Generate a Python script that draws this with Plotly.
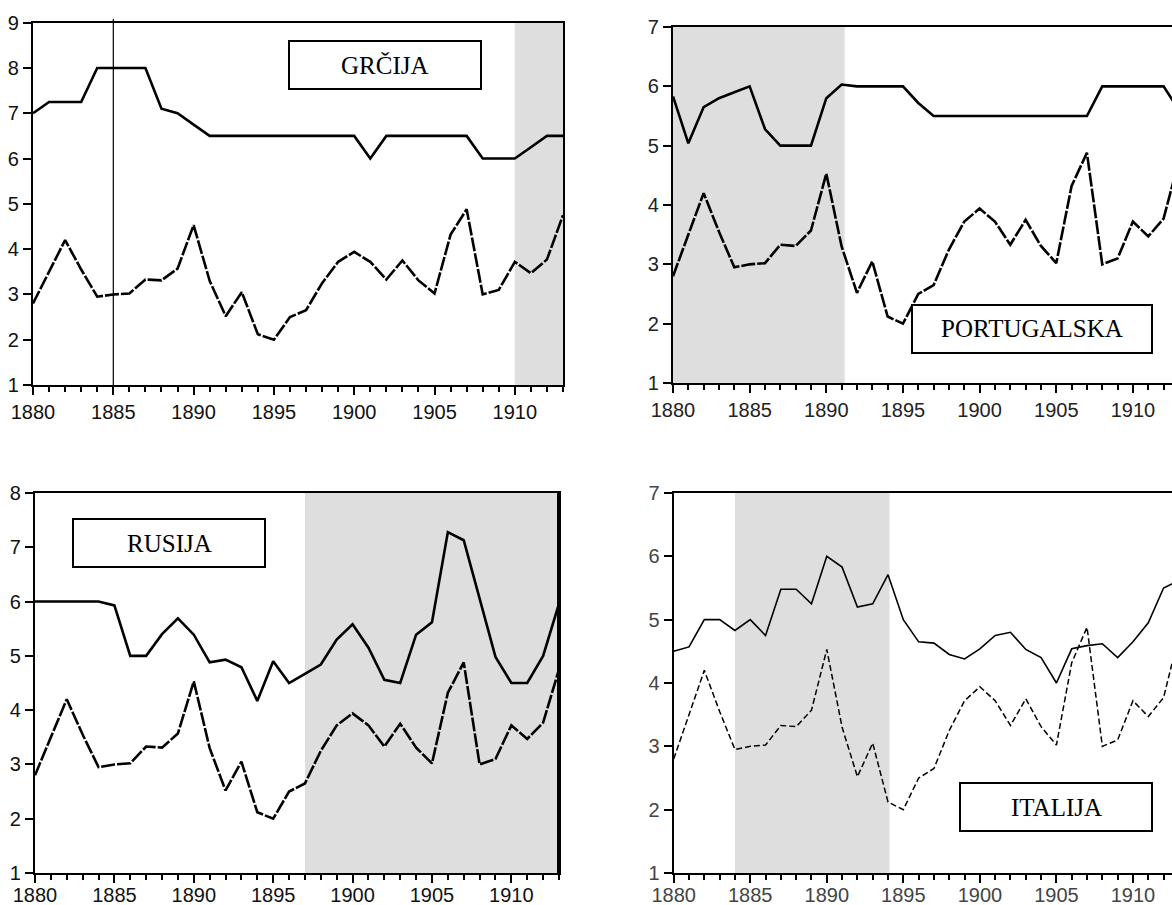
import plotly.graph_objects as go

W, H = 1172, 905

years = list(range(1880, 1914))
common = [2.8, 3.5, 4.2, 3.55, 2.95, 3.0, 3.02, 3.33, 3.31, 3.57, 4.53, 3.3, 2.52, 3.05,
          2.12, 2.0, 2.5, 2.65, 3.25, 3.72, 3.94, 3.72, 3.33, 3.75, 3.31, 3.02, 4.32, 4.88,
          3.0, 3.1, 3.72, 3.47, 3.77, 4.75]
greece = [7.0, 7.25, 7.25, 7.25, 8.0, 8.0, 8.0, 8.0, 7.1, 7.0, 6.75, 6.5, 6.5, 6.5, 6.5,
          6.5, 6.5, 6.5, 6.5, 6.5, 6.5, 6.0, 6.5, 6.5, 6.5, 6.5, 6.5, 6.5, 6.0, 6.0, 6.0,
          6.25, 6.5, 6.5]
portugal = [5.83, 5.04, 5.65, 5.8, 5.9, 6.0, 5.28, 5.0, 5.0, 5.0, 5.8, 6.03, 6.0, 6.0, 6.0,
            6.0, 5.72, 5.5, 5.5, 5.5, 5.5, 5.5, 5.5, 5.5, 5.5, 5.5, 5.5, 5.5, 6.0, 6.0, 6.0,
            6.0, 6.0, 5.6]
russia = [6.0, 6.0, 6.0, 6.0, 6.0, 5.93, 5.0, 5.0, 5.4, 5.69, 5.39, 4.88, 4.93, 4.79, 4.17,
          4.9, 4.5, 4.67, 4.84, 5.3, 5.58, 5.15, 4.56, 4.5, 5.39, 5.62, 7.28, 7.13, 6.05,
          4.98, 4.5, 4.5, 5.0, 5.96]
italy = [4.5, 4.57, 5.0, 5.0, 4.83, 5.0, 4.75, 5.48, 5.48, 5.25, 6.0, 5.83, 5.2, 5.25, 5.71,
         5.0, 4.65, 4.63, 4.45, 4.38, 4.54, 4.75, 4.8, 4.53, 4.4, 4.0, 4.54, 4.59, 4.62, 4.4,
         4.65, 4.95, 5.5, 5.62]

labels = ["GRČIJA", "PORTUGALSKA", "RUSIJA", "ITALIJA"]
shade = [(1910, 1913), (1880, 1891.2), (1897, 1913), (1884, 1894.1)]
yranges = [(1, 9), (1, 7), (1, 8), (1, 7)]
xranges = [(1880, 1913), (1880, 1912.55), (1880, 1913), (1880, 1912.55)]

def px(x):
    return x / W

def py(y):
    return 1 - y / H

# plot areas in pixels: left, top, right, bottom
areas = [(33, 22.7, 563, 385), (673, 27, 1172, 383), (35, 493, 559, 873), (673.7, 493, 1172, 873)]
# label boxes in pixels
boxes = [(289, 41, 481, 89), (912, 305, 1152, 353), (73, 519, 265, 567), (960, 783, 1152, 831)]

fig = go.Figure()
series = [greece, portugal, russia, italy]
layout = dict(width=W, height=H, margin=dict(l=0, r=0, t=0, b=0, autoexpand=False), showlegend=False,
              plot_bgcolor="white", paper_bgcolor="white", template="none")
shapes = []
annotations = []
tickfont = dict(family="Liberation Sans, Arial, sans-serif", size=20, color="#111")

for i in range(4):
    n = "" if i == 0 else str(i + 1)
    xa, ya = "x" + n, "y" + n
    italy_style = (i == 3)
    up_w = 1.6 if italy_style else 2.6
    lo_w = 1.5 if italy_style else 2.6
    lo_dash = "6px,3px" if italy_style else "14px,2px"
    fig.add_trace(go.Scatter(x=years, y=series[i], mode="lines", xaxis=xa, yaxis=ya,
                             line=dict(color="black", width=up_w)))
    fig.add_trace(go.Scatter(x=years, y=common, mode="lines", xaxis=xa, yaxis=ya,
                             line=dict(color="black", width=lo_w, dash=lo_dash)))
    l, t, r, b = areas[i]
    left_panel = i in (0, 2)
    bottom_row = i in (2, 3)
    tf = dict(tickfont)
    if i == 1:
        tf["color"] = "#222"
    if i == 3:
        tf["color"] = "#444"
    layout["xaxis" + n] = dict(
        domain=[px(l), min(1.0, px(r))], range=list(xranges[i]), anchor=ya, automargin=False,
        showline=True, linecolor="black", linewidth=2.2, mirror=True,
        ticks="outside", ticklen=8, tickwidth=1.5, tickcolor="black",
        tick0=1880, dtick=5, tickfont=tf, showgrid=False, zeroline=False,
        ticklabelstandoff=(-5 if bottom_row else 0),
        minor=dict(dtick=1, ticks="outside", ticklen=5, tickwidth=1.5, tickcolor="black", showgrid=False),
    )
    layout["yaxis" + n] = dict(
        domain=[py(b), py(t)], range=list(yranges[i]), anchor=xa, automargin=False,
        showline=True, linecolor="black", linewidth=2.4, mirror=left_panel,
        ticks="outside", ticklen=8, tickwidth=1.5, tickcolor="black",
        tick0=1, dtick=1, tickfont=tf, showgrid=False, zeroline=False,
    )
    s0, s1 = shade[i]
    shapes.append(dict(type="rect", xref=xa, yref=ya + " domain", x0=s0, x1=s1, y0=0, y1=1,
                       fillcolor="#dedede", line=dict(width=0), layer="below"))
    bl, bt, br, bb = boxes[i]
    shapes.append(dict(type="rect", xref="paper", yref="paper", x0=px(bl), x1=px(br),
                       y0=py(bb), y1=py(bt), fillcolor="white",
                       line=dict(color="black", width=2), layer="above"))
    annotations.append(dict(xref="paper", yref="paper", x=px((bl + br) / 2), y=py((bt + bb) / 2),
                            text=labels[i], showarrow=False, xanchor="center", yanchor="middle",
                            font=dict(family="Liberation Serif, Times New Roman, serif", size=25, color="black")))

# vertical marker line in first panel
shapes.append(dict(type="line", xref="x", yref="y domain", x0=1885, x1=1885, y0=0, y1=1.01,
                   line=dict(color="black", width=1.2), layer="above"))
# thicker right border for the Russia panel
shapes.append(dict(type="line", xref="x3", yref="y3 domain", x0=1913, x1=1913, y0=0, y1=1,
                   line=dict(color="black", width=4), layer="above"))

layout["shapes"] = shapes
layout["annotations"] = annotations
fig.update_layout(**layout)
fig.write_html("out.html", config={"displayModeBar": False},
               post_script="document.body.style.margin='0px';document.body.style.overflow='hidden';")
